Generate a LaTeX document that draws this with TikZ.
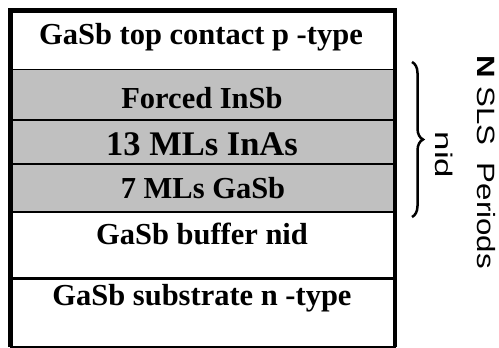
\documentclass[tikz,border=0pt]{standalone}
\usepackage{fontspec}
\setmainfont{Liberation Serif}
\setsansfont{Liberation Sans}
\usetikzlibrary{decorations.pathreplacing}
\definecolor{layergray}{RGB}{192,192,192}
\begin{document}
\begin{tikzpicture}[x=1pt,y=-1pt,
  layer/.style={draw=black, line width=1.5pt, minimum width=384.5pt, inner sep=0pt, outer sep=0pt, anchor=north west},
  lbl/.style={font=\bfseries\fontsize{30.5}{33}\selectfont, anchor=base, inner sep=0pt},
  biglbl/.style={font=\bfseries\fontsize{34.5}{37}\selectfont, anchor=base, inner sep=0pt},
  side/.style={font=\sffamily\fontsize{25}{28}\selectfont, rotate=-90, anchor=base, inner sep=0pt},
]
\useasboundingbox (0,0) rectangle (499,348);
% layers
\node[layer, fill=white, minimum height=59pt] (topc) at (10.5,10.5) {};
\node[layer, fill=layergray, minimum height=50.5pt] (insb) at (10.5,69.5) {};
\node[layer, fill=layergray, minimum height=44pt] (inas) at (10.5,120) {};
\node[layer, fill=layergray, minimum height=48pt] (gasb) at (10.5,164) {};
\node[layer, fill=white, minimum height=66pt] (buf) at (10.5,212) {};
\node[layer, fill=white, minimum height=69pt] (sub) at (10.5,278) {};
% thicker separator and outer frame
\draw[line width=3pt] (sub.north west) -- (sub.north east);
\draw[line width=4.5pt] (sub.south west) -- (topc.north west) -- (topc.north east) -- (sub.south east);
% labels
\node[lbl] (ltop) at (201,45) {GaSb top contact p -type};
\node[lbl] (linsb) at (202,108) {Forced InSb};
\node[biglbl] (linas) at (202,155) {13 MLs InAs};
\node[lbl] (lgasb) at (203,198) {7 MLs GaSb};
\node[lbl] (lbuf) at (202,244) {GaSb buffer nid};
\node[lbl] (lsub) at (202,305) {GaSb substrate n -type};
% brace
\coordinate (bt) at (412,62);
\coordinate (bb) at (412,217);
\draw[line width=2.5pt, decorate, decoration={brace, amplitude=11pt}] (bt) -- (bb);
% side text
\node[side] (sls) at (477,162) {\scalebox{1.25}[1]{\textbf{N} SLS\ \ Periods}};
\node[side, font=\sffamily\fontsize{24}{27}\selectfont] (nid) at (435,155) {\scalebox{1.45}[1]{nid}};
\end{tikzpicture}
\end{document}
